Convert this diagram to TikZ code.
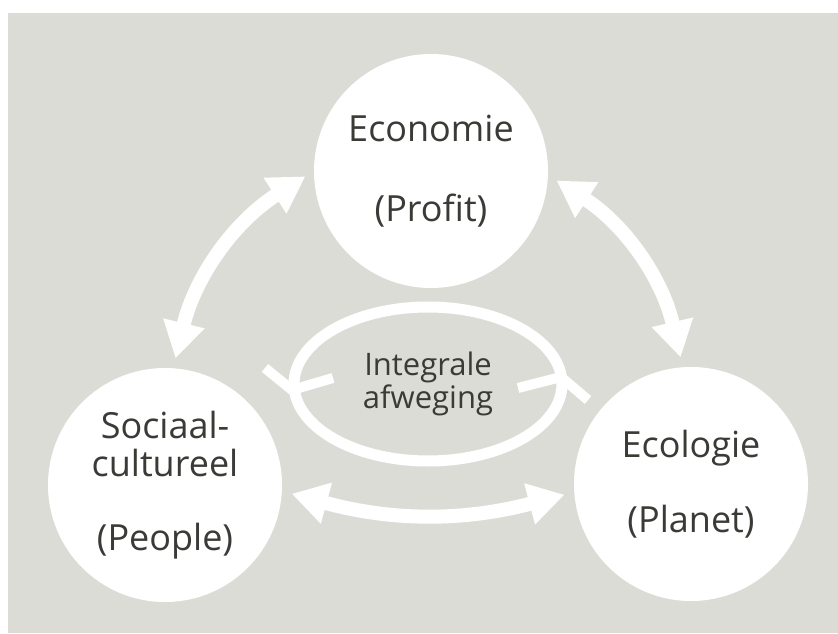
\documentclass[tikz,border=0pt]{standalone}
\usepackage{fontspec}
\setmainfont{Open Sans}
\usetikzlibrary{arrows.meta}

\definecolor{bggray}{RGB}{220,220,215}
\definecolor{txtgray}{RGB}{58,58,54}

\begin{document}
\begin{tikzpicture}[
  x=1pt, y=1pt,
  pillar/.style={circle, fill=white, minimum size=234pt, inner sep=0pt,
                 align=center, text=txtgray, font=\fontsize{36}{38}\selectfont},
  dbl/.style={{Triangle[length=36pt,width=40pt]}-{Triangle[length=36pt,width=40pt]},
              line width=14pt, draw=white, shorten <=10pt, shorten >=10pt},
  ring/.style={draw=white, line width=11pt},
  barb/.style={draw=white, line width=10pt, line join=round},
  mid/.style={align=center, text=txtgray, font=\fontsize{31}{31}\selectfont}
]
\useasboundingbox (0,0) rectangle (838,633);
\fill[bggray] (8,0) rectangle (838,620);

\node[pillar] (EC) at (431,462) {Economie\\[42pt](Profit)};
\node[pillar] (SC) at (165,148) {Sociaal-\\cultureel\\[36pt](People)};
\node[pillar] (EL) at (691,149) {Ecologie\\[37pt](Planet)};
\node[mid]    (IA) at (428,249) {Integrale\\afweging};

\draw[dbl] (SC.86) to[bend left=22] (EC.180);
\draw[dbl] (EC.-2) to[bend left=22] (EL.94);
\draw[dbl] (SC.-3) to[bend right=15] (EL.184);

% ring round the middle, with its two barbs
\draw[ring] (IA.center) ellipse [x radius=134, y radius=77];
\draw[barb] (265,265) -- (292,243) -- (333,255);
\draw[barb] (518,245) -- (561,256) -- (588,233);
\end{tikzpicture}
\end{document}
